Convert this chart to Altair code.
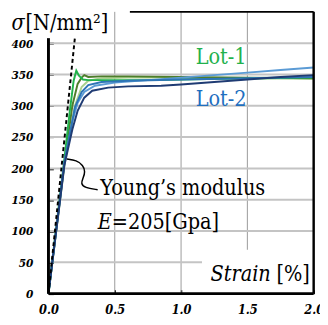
import altair as alt
import pandas as pd

# ---- data ----
lot1_bright_strain = [0, 0.06, 0.12, 0.16, 0.19, 0.21, 0.23, 0.26, 0.30, 0.50, 0.80, 1.00, 1.30, 1.60, 2.00]
lot1_bright_stress = [0, 108, 215, 290, 340, 356, 348, 342, 341, 341, 341, 342, 343, 344, 345]
lot1_olive_strain = [0, 0.12, 0.18, 0.22, 0.25, 0.27, 0.30, 0.40, 0.60, 1.00, 1.50, 2.00]
lot1_olive_stress = [0, 208, 300, 335, 345, 349, 346, 347, 347, 346, 345, 344]
lot1_light_strain = [0, 0.12, 0.20, 0.25, 0.30, 0.40, 0.60, 1.00, 1.50, 2.00]
lot1_light_stress = [0, 205, 300, 330, 340, 344, 345, 345, 344, 343]
lot2_light_strain = [0, 0.12, 0.18, 0.22, 0.27, 0.35, 0.50, 0.75, 1.00, 1.25, 1.50, 1.75, 2.00]
lot2_light_stress = [0, 208, 275, 305, 322, 332, 337, 341, 345, 349, 353, 357, 361]
lot2_mid_strain = [0, 0.12, 0.20, 0.25, 0.30, 0.40, 0.60, 1.00, 1.50, 2.00]
lot2_mid_stress = [0, 210, 298, 322, 333, 338, 340, 342, 344, 346]
lot2_navy_strain = [0, 0.12, 0.18, 0.22, 0.27, 0.33, 0.45, 0.60, 0.85, 1.00, 1.25, 1.50, 1.75, 2.00]
lot2_navy_stress = [0, 205, 262, 292, 313, 324, 329, 331, 332, 334, 338, 342, 346, 349]

series_names = ["L1c", "L1b", "L1a", "L2a", "L2b", "L2c"]
series_colors = ["#a9d18e", "#4e7d2b", "#21b24b", "#5b9bd5", "#2e75b6", "#1f3b73"]
series_data = [
    (lot1_light_strain, lot1_light_stress),
    (lot1_olive_strain, lot1_olive_stress),
    (lot1_bright_strain, lot1_bright_stress),
    (lot2_light_strain, lot2_light_stress),
    (lot2_mid_strain, lot2_mid_stress),
    (lot2_navy_strain, lot2_navy_stress),
]

young_strain = [0, 0.20]
young_stress = [0, 410]

callout_strain = [0.139, 0.212, 0.261, 0.278, 0.261, 0.244, 0.273, 0.371]
callout_stress = [215, 213, 205, 195, 184, 176, 169, 166]

x_ticks = [0, 0.5, 1.0, 1.5, 2.0]
y_ticks = [0, 50, 100, 150, 200, 250, 300, 350, 400]
x_grid = [0.5, 1.0, 1.5]
y_grid = [50, 100, 150, 200, 250, 300, 350, 400]

FONT = "DejaVu Serif Condensed"

rows = []
for name, (xs, ys) in zip(series_names, series_data):
    for i, (a, b) in enumerate(zip(xs, ys)):
        rows.append({"series": name, "strain": a, "stress": b, "i": i})
curves_df = pd.DataFrame(rows)

xscale = alt.Scale(domain=[0, 2.0], nice=False, zero=False)
yscale = alt.Scale(domain=[0, 450], nice=False, zero=False)

x_axis = alt.Axis(values=x_ticks, format=".1f", title=None, domain=False,
                  offset=-4, tickSize=4, tickWidth=1.5, tickColor="black",
                  grid=False,
                  labelFont=FONT, labelFontSize=13, labelFontStyle="italic",
                  labelFontWeight="bold", labelColor="black", labelPadding=10,
                  labelFlush=False, labelOverlap=False)
y_axis = alt.Axis(values=y_ticks, format="d", title=None, domain=False,
                  offset=-5, tickSize=5, tickWidth=2, tickColor="black",
                  grid=False,
                  labelFont=FONT, labelFontSize=12, labelFontStyle="italic",
                  labelFontWeight="bold", labelColor="black", labelPadding=16,
                  labelOverlap=False)


def X(field):
    return alt.X(field, scale=xscale, axis=x_axis)


def Y(field):
    return alt.Y(field, scale=yscale, axis=y_axis)


vgrid = alt.Chart(pd.DataFrame({"g": x_grid})).mark_rule(
    color="#999999", strokeWidth=1).encode(x=X("g:Q"))
hgrid = alt.Chart(pd.DataFrame({"gy": y_grid})).mark_rule(
    color="#c4c4c4", strokeWidth=2).encode(y=Y("gy:Q"))

# white box behind the "Strain[%]" label
box = alt.Chart(pd.DataFrame({"x": [1.158], "x2": [2.0], "y": [0], "y2": [70]})).mark_rect(
    color="white").encode(x=X("x:Q"), x2="x2:Q", y=Y("y:Q"), y2="y2:Q")

curves = alt.Chart(curves_df).mark_line(strokeWidth=2).encode(
    x=X("strain:Q"),
    y=Y("stress:Q"),
    color=alt.Color("series:N", scale=alt.Scale(domain=series_names, range=series_colors), legend=None),
    order="i:Q",
    detail="series:N",
)

young = alt.Chart(pd.DataFrame({"strain": young_strain, "stress": young_stress})).mark_line(
    color="black", strokeWidth=2, strokeDash=[4, 3]).encode(x=X("strain:Q"), y=Y("stress:Q"))

callout = alt.Chart(pd.DataFrame({"strain": callout_strain, "stress": callout_stress,
                                  "i": list(range(len(callout_strain)))})).mark_line(
    color="black", strokeWidth=1.5, interpolate="basis").encode(
    x=X("strain:Q"), y=Y("stress:Q"), order="i:Q")

# frame lines
frame_df = pd.DataFrame({
    "x":  [0.0, 0.0, 2.0, 0.614],
    "x2": [0.0, 2.0, 2.0, 2.0],
    "y":  [0, 0, 0, 450],
    "y2": [408, 0, 450, 450],
    "w":  [3.0, 3.0, 2.5, 2.0],
})
frame = alt.Chart(frame_df).mark_rule(color="black").encode(
    x=X("x:Q"), x2="x2:Q", y=Y("y:Q"), y2="y2:Q",
    strokeWidth=alt.StrokeWidth("w:Q", scale=None, legend=None),
)


def text_layer(texts, xs, ys, color, style, size, font=FONT):
    df = pd.DataFrame({"t": texts, "x": xs, "y": ys})
    return alt.Chart(df).mark_text(
        font=font, fontSize=size, fontStyle=style, color=color,
        align="left", baseline="alphabetic").encode(
        x=X("x:Q"), y=Y("y:Q"), text="t:N")


t_sigma = text_layer(["σ"], [-0.278], [421], "black", "italic", 22)
t_unit = text_layer(["[N/mm²]"], [-0.173], [421], "black", "normal", 22)
t_lot1 = text_layer(["Lot-1"], [1.11], [366], "#22b14c", "normal", 22)
t_lot2 = text_layer(["Lot-2"], [1.11], [300], "#1f6fbf", "normal", 22)
t_young = text_layer(["Young’s modulus"], [0.391], [157], "black", "normal", 22)
t_E = text_layer(["E"], [0.371], [104], "black", "italic", 22)
t_E2 = text_layer(["=205[Gpa]"], [0.478], [104], "black", "normal", 22)
t_strain = text_layer(["Strain"], [1.222], [20], "black", "italic", 22)
t_pct = text_layer(["[%]"], [1.719], [20], "black", "normal", 22)

chart = alt.layer(
    vgrid, hgrid, box, curves, young, callout, frame,
    t_sigma, t_unit, t_lot1, t_lot2, t_young, t_E, t_E2, t_strain, t_pct,
).properties(
    width=272, height=289,
    padding={"left": 41.5, "top": 0, "right": 6.5, "bottom": 20},
    autosize="none",
    background="white",
).configure_view(stroke=None)

chart.save("out.html", embed_options={"renderer": "svg", "actions": False})
